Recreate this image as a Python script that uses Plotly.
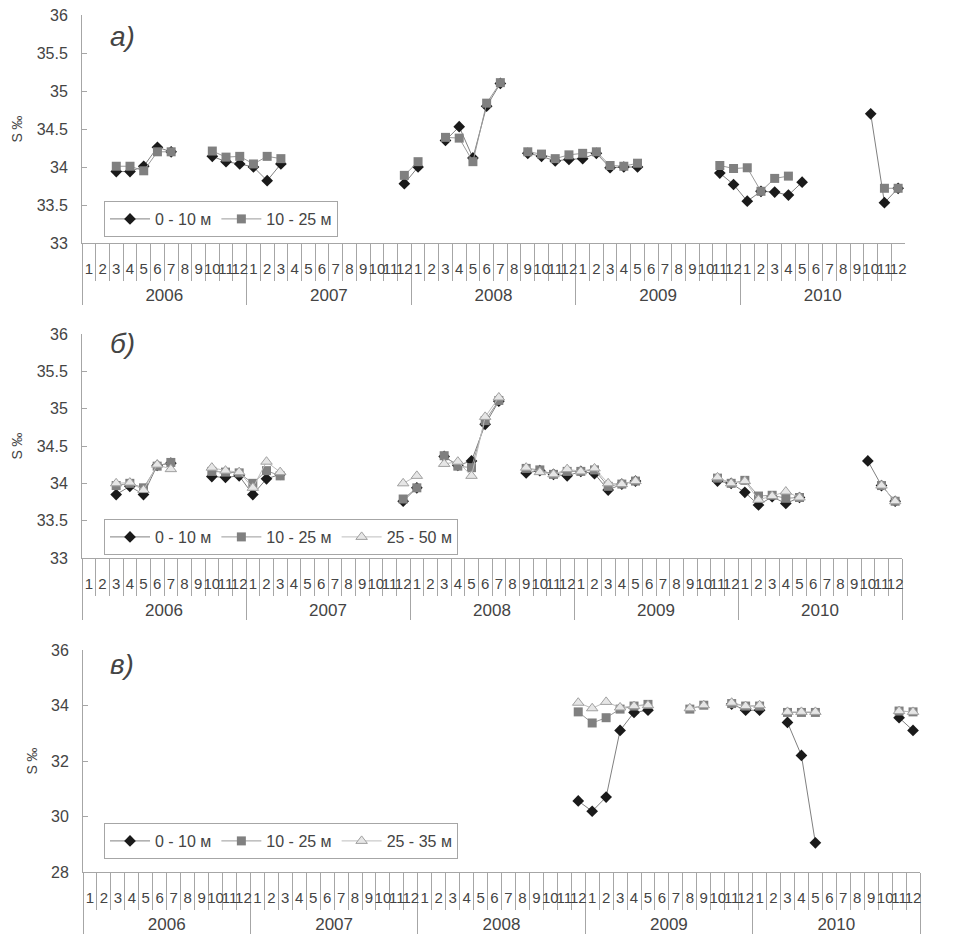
import plotly.graph_objects as go

# ---------------- data ----------------
years = ["2006", "2007", "2008", "2009", "2010"]
months = ["1", "2", "3", "4", "5", "6", "7", "8", "9", "10", "11", "12"]
year_labels = ["<br><span style='font-size:17px'>" + y + "</span>" for y in years]
x_years = [y for y in year_labels for _ in months]
x_months = [m for _ in years for m in months]

N = None
# Panel a)
a_0_10 = [N, N, 33.94, 33.94, 34.01, 34.26, 34.2, N, N, 34.14, 34.07, 34.04,
          34.0, 33.82, 34.04, N, N, N, N, N, N, N, N, 33.78,
          34.0, N, 34.35, 34.53, 34.12, 34.8, 35.1, N, 34.18, 34.14, 34.08, 34.1,
          34.11, 34.18, 33.99, 34.0, 34.0, N, N, N, N, N, 33.92, 33.77,
          33.55, 33.68, 33.67, 33.63, 33.8, N, N, N, N, 34.7, 33.53, 33.72]
a_10_25 = [N, N, 34.01, 34.01, 33.95, 34.2, 34.2, N, N, 34.21, 34.13, 34.14,
           34.04, 34.14, 34.11, N, N, N, N, N, N, N, N, 33.89,
           34.07, N, 34.39, 34.38, 34.07, 34.84, 35.11, N, 34.2, 34.17, 34.11, 34.16,
           34.18, 34.2, 34.02, 34.01, 34.05, N, N, N, N, N, 34.02, 33.98,
           33.99, 33.68, 33.85, 33.88, N, N, N, N, N, N, 33.72, 33.72]
# Panel б)
b_0_10 = [N, N, 33.85, 33.96, 33.85, 34.24, 34.27, N, N, 34.09, 34.08, 34.1,
          33.85, 34.06, 34.12, N, N, N, N, N, N, N, N, 33.76,
          33.94, N, 34.36, 34.24, 34.3, 34.79, 35.1, N, 34.14, 34.17, 34.12, 34.1,
          34.16, 34.13, 33.91, 33.99, 34.03, N, N, N, N, N, 34.03, 34.0,
          33.88, 33.71, 33.82, 33.73, 33.81, N, N, N, N, 34.3, 33.97, 33.76]
b_10_25 = [N, N, 33.97, 34.0, 33.94, 34.23, 34.28, N, N, 34.16, 34.15, 34.14,
           34.0, 34.17, 34.1, N, N, N, N, N, N, N, N, 33.79,
           33.94, N, 34.37, 34.23, 34.21, 34.84, 35.11, N, 34.2, 34.18, 34.12, 34.16,
           34.16, 34.18, 33.96, 33.99, 34.03, N, N, N, N, N, 34.07, 34.0,
           34.04, 33.83, 33.84, 33.8, 33.81, N, N, N, N, N, 33.97, 33.76]
b_25_50 = [N, N, 34.0, 34.01, 33.91, 34.25, 34.19, N, N, 34.21, 34.17, 34.15,
           33.94, 34.29, 34.15, N, N, N, N, N, N, N, N, 34.0,
           34.1, N, 34.26, 34.29, 34.1, 34.89, 35.15, N, 34.21, 34.15, 34.12, 34.19,
           34.16, 34.2, 34.0, 33.99, 34.03, N, N, N, N, N, 34.08, 34.0,
           34.03, 33.78, 33.83, 33.89, 33.81, N, N, N, N, N, 33.97, 33.76]
# Panel в)
c_0_10 = [N] * 12 + [N] * 12 + \
         [N, N, N, N, N, N, N, N, N, N, N, 30.56] + \
         [30.19, 30.7, 33.1, 33.75, 33.83, N, N, N, N, N, 34.05, 33.83] + \
         [33.83, N, 33.39, 32.2, 29.05, N, N, N, N, N, 33.56, 33.1]
c_10_25 = [N] * 12 + [N] * 12 + \
          [N, N, N, N, N, N, N, N, N, N, N, 33.77] + \
          [33.37, 33.56, 33.87, 33.98, 34.04, N, N, 33.87, 34.01, N, 34.07, 33.98] + \
          [33.98, N, 33.75, 33.75, 33.75, N, N, N, N, N, 33.8, 33.77]
c_25_35 = [N] * 12 + [N] * 12 + \
          [N, N, N, N, N, N, N, N, N, N, N, 34.1] + \
          [33.9, 34.13, 33.93, 33.98, 34.01, N, N, 33.9, 34.01, N, 34.1, 33.98] + \
          [34.01, N, 33.77, 33.77, 33.77, N, N, N, N, N, 33.8, 33.77]

names = ["0 - 10 м", "10 - 25 м", "25 - 50 м", "25 - 35 м"]
panel_labels = ["а)", "б)", "в)"]
y_title = "S ‰"

# ---------------- styles ----------------
FONT = "Liberation Sans, Arial, sans-serif"
TXT = "#444444"
AX = "#a6a6a6"

sty = {
    "d": dict(marker=dict(symbol="diamond", size=9, color="#1a1a1a", line=dict(width=0)),
              line=dict(color="#808080", width=1)),
    "s": dict(marker=dict(symbol="square", size=9, color="#808080", line=dict(width=0)),
              line=dict(color="#9a9a9a", width=1)),
    "t": dict(marker=dict(symbol="triangle-up", size=10, color="#e6e6e6",
                          line=dict(width=1, color="#a0a0a0")),
              line=dict(color="#bdbdbd", width=1)),
}

fig = go.Figure()

def add(vals, name, st, ax_idx):
    sfx = "" if ax_idx == 1 else str(ax_idx)
    fig.add_trace(go.Scatter(
        x=[x_years, x_months], y=vals, name=name, mode="lines+markers",
        connectgaps=False, xaxis="x" + sfx, yaxis="y" + sfx,
        legend="legend" + sfx, **sty[st]))

add(a_0_10, names[0], "d", 1)
add(a_10_25, names[1], "s", 1)
add(b_0_10, names[0], "d", 2)
add(b_10_25, names[1], "s", 2)
add(b_25_50, names[2], "t", 2)
add(c_0_10, names[0], "d", 3)
add(c_10_25, names[1], "s", 3)
add(c_25_35, names[3], "t", 3)

W, H = 955, 942
# pixel boxes of plot areas (left, right, top, bottom)
boxes = [(82, 905, 15, 243), (82, 902, 334, 558), (83, 920, 650, 872)]
yranges = [[33, 36], [33, 36], [28, 36]]
ydticks = [0.5, 0.5, 2]
legend_pos = [(104, 237), (104, 555), (104, 859)]
label_pos = [(108, 37), (108, 343), (108, 664)]

layout = dict(template="none", width=W, height=H, autosize=False,
              margin=dict(l=0, r=0, t=0, b=0, pad=0),
              paper_bgcolor="white", plot_bgcolor="white",
              font=dict(family=FONT, color=TXT), showlegend=True)

for i, (l, r, t, b) in enumerate(boxes):
    sfx = "" if i == 0 else str(i + 1)
    layout["xaxis" + sfx] = dict(
        type="multicategory", domain=[l / W, r / W], anchor="y" + sfx,
        automargin=False,
        range=[-0.5, 59.5], tickmode="linear", tick0=0, dtick=1,
        tickson="boundaries", ticks="outside", ticklen=37, tickcolor=AX,
        tickwidth=1, tickangle=0, ticklabelstandoff=12,
        tickfont=dict(size=15, color=TXT, family=FONT),
        showline=True, linecolor=AX, linewidth=1, showgrid=False, zeroline=False,
        showdividers=True, dividercolor=AX, dividerwidth=1)
    layout["yaxis" + sfx] = dict(
        domain=[(H - b) / H, (H - t) / H], anchor="x" + sfx,
        automargin=False,
        range=yranges[i], dtick=ydticks[i], tick0=yranges[i][0],
        ticks="inside", ticklen=5, tickcolor=AX, tickwidth=1,
        ticklabelstandoff=10,
        showline=True, linecolor=AX, linewidth=1, showgrid=False, zeroline=False,
        tickfont=dict(size=16, color=TXT, family=FONT),
        title=dict(text=y_title, font=dict(size=14, color=TXT, family=FONT), standoff=10))
    lx, ly = legend_pos[i]
    layout["legend" + sfx] = dict(
        x=lx / W, y=(H - ly) / H, xanchor="left", yanchor="bottom",
        orientation="h", bgcolor="white", bordercolor=AX, borderwidth=1,
        font=dict(size=16, color=TXT, family=FONT), itemwidth=40,
        tracegroupgap=0)

annotations = []
for i, (px, py) in enumerate(label_pos):
    annotations.append(dict(
        text="<i>" + panel_labels[i] + "</i>", x=px / W, y=(H - py) / H,
        xref="paper", yref="paper", xanchor="left", yanchor="middle",
        showarrow=False, font=dict(size=28, color="#444444", family=FONT)))
layout["annotations"] = annotations

fig.update_layout(**layout)
fig.write_html("out.html", config={"displayModeBar": False},
               post_script="document.body.style.margin='0';document.body.style.overflow='hidden';")
